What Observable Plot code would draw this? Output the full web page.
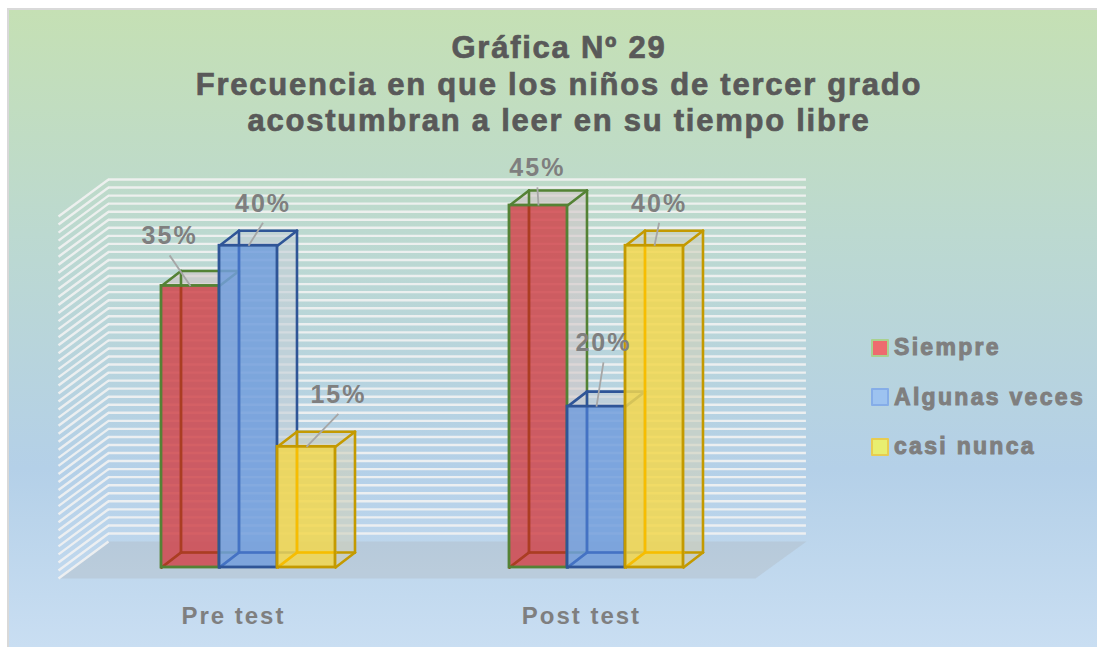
<!DOCTYPE html>
<html>
<head>
<meta charset="utf-8">
<script src="https://cdn.jsdelivr.net/npm/d3@7"></script>
<script src="https://cdn.jsdelivr.net/npm/@observablehq/plot@0.6"></script>
<style>
  html, body { margin: 0; padding: 0; background: #fff; width: 1097px; height: 647px; overflow: hidden; }
  body { position: relative; font-family: "Liberation Sans", Arial, sans-serif; }
  #frame { position: absolute; left: 7px; top: 8px; width: 1090px; height: 639px; box-sizing: border-box;
    border: 2px solid #d9d9d9; border-right: 0; border-bottom: 0;
    background: linear-gradient(180deg, #c5e0b4 0%, #bcd9d0 35%, #b4d0e8 72%, #c9def2 100%); }
  #title { position: relative; box-sizing: border-box; width: 1097px; height: 150px; padding: 30px 0 0 21px;
    text-align: center; color: #595959; font-size: 31px; font-weight: bold; line-height: 36.5px; letter-spacing: 1.75px;
    -webkit-text-stroke: 0.7px #595959; }
  #chart { position: absolute; left: 0; top: 150px; }
  #chart svg { background: transparent; display: block; }
  #chart text { letter-spacing: 2px; -webkit-text-stroke: 1px #7f7f7f; font-weight: bold; }
  #legend { position: absolute; left: 871px; top: 323px; color: #7f7f7f; font-size: 23px; font-weight: bold; letter-spacing: 2.3px;
    -webkit-text-stroke: 1px #7f7f7f; }
  .item { display: flex; align-items: center; height: 49.5px; white-space: nowrap; }
  .sw { width: 14px; height: 14px; border: 2px solid; margin-right: 5px; border-radius: 1px; }
</style>
</head>
<body>
<div id="frame"></div>
<div id="title">Gráfica Nº 29<br>Frecuencia en que los niños de tercer grado<br>acostumbran a leer en su tiempo libre</div>
<div id="chart"></div>
<div id="legend"></div>
<script>
// ---- values ----
const categories = ["Pre test", "Post test"];
const seriesNames = ["Siempre", "Algunas veces", "casi nunca"];
const siempre = [35, 45];
const algunasVeces = [40, 20];
const casiNunca = [15, 40];
const seriesValues = [siempre, algunasVeces, casiNunca];

// ---- styles ----
const fronts = ["#d0474c", "#729ddc", "#f2d74e"];
const edges = ["#548235", "#2f5597", "#c49a00"];
const innerEdges = ["#ab3d22", "#4472c4", "#f7bd00"];
const faces = ["#d2c6c6", "#c4ced6", "#cfd0bc"];
const swatchFills = ["#ee6b6e", "#9dc3f0", "#e8ee70"];
const swatchEdges = ["#a9d18e", "#85ade8", "#e8cc50"];

// ---- layout, in bar widths and percent ----
const groupStart = [0, 6];
const tickCenters = [1.24, 7.24];
const depthX = 0.336, depthY = 1.866;
const wallBackX = -0.914, wallFrontX = -1.776, wallRightX = 11.12, floorRightX = 10.24;
const wallBackLift = 3.23, wallFrontLift = -1.37;
const gridValues = d3.range(0, 46);
const leaderX = [[-0.36, -0.02], [0.25, 0.12], [0.55, 0.08]];
const leaderLift = [[3.8, 2.25], [2.85, 5.5], [4.1, 2.85]];

const bars = seriesNames.flatMap((series, s) => categories.map((category, c) => ({
  series, s, c, category,
  value: seriesValues[s][c],
  x: groupStart[c] + s,
  endX: groupStart[c] + s + 0.5 + leaderX[s][c],
  endY: seriesValues[s][c] + leaderLift[s][c]
})));

const polygon = (id, pts) => pts.map(([x, y]) => ({id, x, y}));
const floor = polygon("floor", [
  [wallFrontX, wallFrontLift], [wallBackX, wallBackLift],
  [wallRightX, wallBackLift], [floorRightX, wallFrontLift]
]);

function barMarks(s) {
  const b = bars.filter(d => d.s === s);
  const facePolys = b.flatMap((d, i) => [
    ...polygon(`r${i}`, [[d.x + 1, 0], [d.x + 1 + depthX, depthY], [d.x + 1 + depthX, d.value + depthY], [d.x + 1, d.value]]),
    ...polygon(`t${i}`, [[d.x, d.value], [d.x + depthX, d.value + depthY], [d.x + 1 + depthX, d.value + depthY], [d.x + 1, d.value]])
  ]);
  const wires = b.flatMap(d => {
    const l = d.x, r = d.x + 1, L = l + depthX, R = r + depthX, v = d.value, V = v + depthY;
    return [
      [L, depthY, L, V], [R, depthY, R, V], [L, V, R, V], [L, depthY, R, depthY],
      [l, 0, L, depthY], [r, 0, R, depthY], [l, v, L, V], [r, v, R, V]
    ];
  });
  const inner = b.flatMap(d => {
    const l = d.x, r = d.x + 1, L = l + depthX, v = d.value;
    return [[L, depthY, L, v], [L, depthY, r, depthY], [l, 0, L, depthY]];
  });
  const link = (data, stroke) => Plot.link(data, {
    x1: d => d[0], y1: d => d[1], x2: d => d[2], y2: d => d[3], stroke, strokeWidth: 2.6, strokeLinecap: "round"
  });
  return [
    Plot.line(facePolys, {x: "x", y: "y", z: "id", curve: "linear-closed", fill: faces[s], fillOpacity: 0.62, stroke: "none"}),
    link(wires, edges[s]),
    Plot.rect(b, {x1: "x", x2: d => d.x + 1, y1: 0, y2: "value", fill: "series", fillOpacity: 0.85}),
    link(inner, innerEdges[s]),
    Plot.rect(b, {x1: "x", x2: d => d.x + 1, y1: 0, y2: "value", fill: "none", stroke: edges[s], strokeWidth: 2.8})
  ];
}

const plot = Plot.plot({
  width: 1097,
  height: 497,
  marginBottom: 50,
  marginTop: 0,
  marginLeft: 0,
  marginRight: 0,
  style: {background: "transparent", fontFamily: "'Liberation Sans', Arial, sans-serif"},
  x: {domain: [0, 12], range: [161, 857], axis: null},
  y: {domain: [0, 45], range: [417, 55], axis: null},
  color: {domain: seriesNames, range: fronts},
  marks: [
    Plot.line(floor, {x: "x", y: "y", z: "id", curve: "linear-closed", fill: "#a8a8a8", fillOpacity: 0.25, stroke: "none"}),
    Plot.ruleY(gridValues.slice(1), {y: d => d + wallBackLift, x1: wallBackX, x2: wallRightX, stroke: "#f2f2f2", strokeWidth: 2.4, strokeOpacity: 0.9}),
    Plot.link(gridValues, {x1: wallFrontX, y1: d => d + wallFrontLift, x2: wallBackX, y2: d => d + wallBackLift, stroke: "#f2f2f2", strokeWidth: 2.4, strokeOpacity: 0.9}),
    ...seriesNames.flatMap((_, s) => barMarks(s)),
    Plot.link(bars, {x1: d => d.x + 0.5, y1: "value", x2: "endX", y2: "endY", stroke: "#a6a6a6", strokeWidth: 1.8}),
    Plot.text(bars, {x: "endX", y: "endY", dy: -19, text: d => `${d.value}%`, fill: "#7f7f7f", fontSize: 25, fontWeight: "bold", lineAnchor: "middle"}),
    Plot.axisX({
      ticks: tickCenters,
      tickFormat: d => categories[tickCenters.indexOf(d)],
      tickSize: 0,
      tickPadding: 9,
      fontSize: 24,
      fontWeight: "bold",
      color: "#7f7f7f",
      fill: "#7f7f7f",
      label: null
    })
  ]
});
document.getElementById("chart").append(plot);

const legend = document.getElementById("legend");
seriesNames.forEach((name, i) => {
  const item = document.createElement("div");
  item.className = "item";
  const sw = document.createElement("span");
  sw.className = "sw";
  sw.style.background = swatchFills[i];
  sw.style.borderColor = swatchEdges[i];
  item.append(sw, document.createTextNode(name));
  legend.append(item);
});
</script>
</body>
</html>
